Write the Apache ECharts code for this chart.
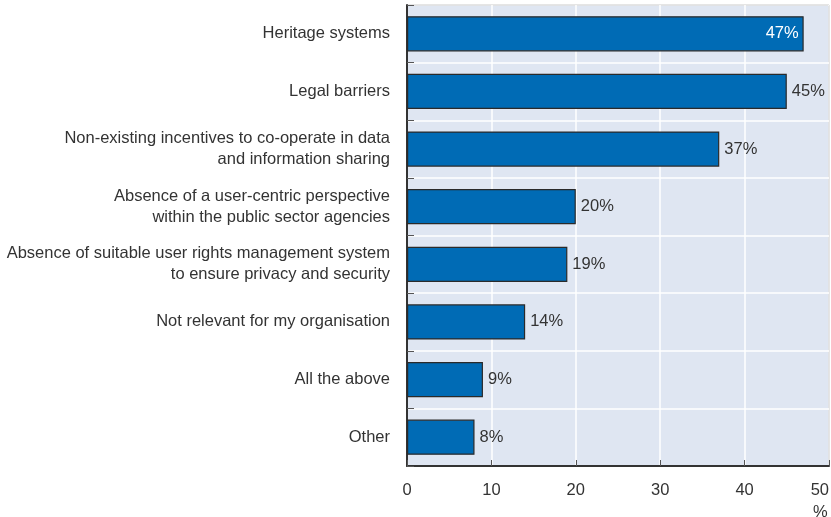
<!DOCTYPE html>
<html><head><meta charset="utf-8">
<script src="https://cdn.jsdelivr.net/npm/echarts@6/dist/echarts.min.js"></script>
<style>html,body{margin:0;padding:0;background:#fff}#c{width:831px;height:517px}</style>
</head><body><div id="c"></div>
<script>
const categories = [
  "Heritage systems",
  "Legal barriers",
  "Non-existing incentives to co-operate in data\nand information sharing",
  "Absence of a user-centric perspective\nwithin the public sector agencies",
  "Absence of suitable user rights management system\nto ensure privacy and security",
  "Not relevant for my organisation",
  "All the above",
  "Other"
];
const values = [47, 45, 37, 20, 19, 14, 9, 8];
const xTicks = [0, 10, 20, 30, 40, 50];

const FONT = '"Liberation Sans Narrow", "Liberation Sans", Arial, sans-serif';
const chart = echarts.init(document.getElementById('c'));
chart.setOption({
  animation: false,
  grid: { left: 407, right: 2, top: 5, bottom: 51, outerBoundsMode: 'none', containLabel: false,
          show: true, backgroundColor: '#dfe6f2', borderColor: '#333', borderWidth: 1 },
  xAxis: {
    type: 'value', min: xTicks[0], max: xTicks[xTicks.length - 1], interval: 10,
    axisLine: { show: true, lineStyle: { color: '#333', width: 2 } },
    axisTick: { show: true, inside: true, length: 6, lineStyle: { color: '#555', width: 1 } },
    splitLine: { show: true, lineStyle: { color: '#fff', width: 1.5 } },
    axisLabel: { color: '#333', fontFamily: FONT, fontSize: 16.5, margin: 16, alignMaxLabel: 'right' },
    name: '%', nameLocation: 'end', nameGap: 0,
    nameTextStyle: { color: '#333', fontFamily: FONT, fontSize: 16.5, padding: [38, 0, 0, -16], verticalAlign: 'top' }
  },
  yAxis: {
    type: 'category', data: categories, inverse: true,
    axisLine: { show: true, lineStyle: { color: '#333', width: 2 } },
    axisTick: { show: true, inside: true, length: 7, lineStyle: { color: '#555', width: 1 } },
    splitLine: { show: true, lineStyle: { color: '#fff', width: 1.5 } },
    axisLabel: { color: '#333', fontFamily: FONT, fontSize: 16.5, lineHeight: 21, margin: 17, align: 'right' }
  },
  series: [{
    type: 'bar', data: values.map((v, i) => ({
      value: v,
      label: i === 0 ? { position: 'insideRight', color: '#fff' } : { position: 'right', color: '#333' }
    })),
    barWidth: '61%',
    itemStyle: { color: '#006bb5', borderColor: '#2a2a2a', borderWidth: 1.2 },
    label: { show: true, fontFamily: FONT, fontSize: 16.5, formatter: '{c}%', distance: 5 }
  }]
});
</script></body></html>
